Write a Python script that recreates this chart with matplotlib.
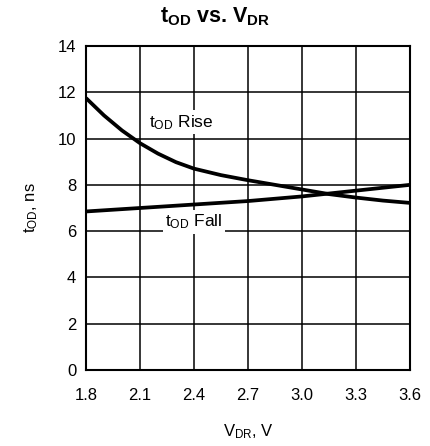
import matplotlib
matplotlib.use("Agg")
import matplotlib.pyplot as plt

plt.rcParams['font.family'] = ['Liberation Sans', 'DejaVu Sans']
plt.rcParams['mathtext.default'] = 'regular'

# supply voltage, V
v_rise = [1.8, 1.9, 2.0, 2.1, 2.2, 2.3, 2.4, 2.55, 2.7, 2.85, 3.0, 3.15, 3.3, 3.45, 3.6]
# rise delay, ns
t_rise = [11.75, 11.0, 10.35, 9.8, 9.35, 8.98, 8.7, 8.42, 8.2, 8.0, 7.8, 7.6, 7.45, 7.32, 7.22]

v_fall = [1.8, 2.1, 2.4, 2.7, 3.0, 3.3, 3.6]
# fall delay, ns
t_fall = [6.85, 7.0, 7.15, 7.3, 7.5, 7.75, 8.0]

xticks = [1.8, 2.1, 2.4, 2.7, 3.0, 3.3, 3.6]
yticks = [0, 2, 4, 6, 8, 10, 12, 14]

fig = plt.figure(figsize=(4.31, 4.46), dpi=100)
ax = fig.add_axes([0.1995, 0.1704, 0.7518, 0.7265])

ax.plot(v_rise, t_rise, color='black', lw=2.7, solid_capstyle='butt', solid_joinstyle='round', zorder=3)
ax.plot(v_fall, t_fall, color='black', lw=2.7, solid_capstyle='butt', solid_joinstyle='round', zorder=3)

ax.set_xlim(1.8, 3.6)
ax.set_ylim(0, 14)
ax.set_xticks(xticks)
ax.set_xticklabels([f"{x:.1f}" for x in xticks])
ax.set_yticks(yticks)
ax.tick_params(length=0, labelsize=12)
ax.tick_params(axis='x', pad=13)
ax.tick_params(axis='y', pad=7)
ax.grid(True, color='black', lw=1.1)
ax.set_axisbelow(True)
for s in ax.spines.values():
    s.set_linewidth(1.5)

# labels sit on white boxes that hide the grid behind them
box = dict(facecolor='white', edgecolor='none', pad=2)
ax.text(2.33, 10.7, r'$t_{OD}$ Rise', fontsize=12.5, ha='center', va='center', bbox=box, zorder=4)
ax.text(2.4, 6.4, r'$t_{OD}$ Fall', fontsize=12.5, ha='center', va='center', bbox=box, zorder=4)

ax.set_xlabel(r'$V_{DR}$, V', fontsize=12, labelpad=14)
ax.set_ylabel(r'$t_{OD}$, ns', fontsize=12, labelpad=13)

fig.text(0.5, 0.962, r'$t_{OD}$ vs. $V_{DR}$', fontsize=15.5, fontweight='bold',
         ha='center', va='center')

fig.savefig('out.png', dpi=100)
